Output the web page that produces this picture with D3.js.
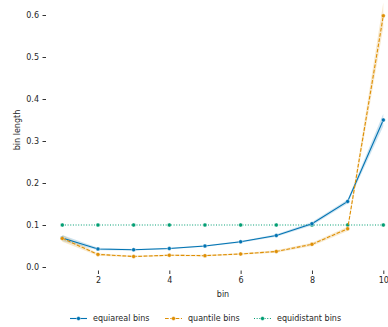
<!DOCTYPE html>
<html><head><meta charset="utf-8">
<script src="https://cdn.jsdelivr.net/npm/d3@7"></script>
<style>body{margin:0;background:#fff}svg{display:block}text{font-family:"DejaVu Sans",sans-serif}</style>
</head><body><svg id="c" width="388" height="327"></svg>
<script>
const bins = [1,2,3,4,5,6,7,8,9,10];
const equiareal = [0.069,0.043,0.041,0.044,0.050,0.060,0.075,0.103,0.156,0.350];
const equiarealLo = [0.062,0.040,0.039,0.042,0.048,0.058,0.072,0.099,0.151,0.335];
const equiarealHi = [0.076,0.046,0.043,0.046,0.052,0.062,0.078,0.107,0.161,0.365];
const quantile = [0.068,0.030,0.025,0.028,0.027,0.031,0.037,0.054,0.091,0.598];
const quantileLo = [0.060,0.027,0.023,0.026,0.025,0.029,0.034,0.050,0.086,0.570];
const quantileHi = [0.076,0.033,0.027,0.030,0.029,0.033,0.040,0.058,0.096,0.630];
const equidistant = [0.1,0.1,0.1,0.1,0.1,0.1,0.1,0.1,0.1,0.1];
const xTicks = [2,4,6,8,10];
const yTicks = [0.0,0.1,0.2,0.3,0.4,0.5,0.6];
const seriesNames = ["equiareal bins","quantile bins","equidistant bins"];

const svg = d3.select("#c");
const x = d3.scaleLinear().domain([1,10]).range([62.3,383.3]);
const y = d3.scaleLinear().domain([0,0.6]).range([267,15]);
const FS = "8px";

const series = [
  {name:seriesNames[0], v:equiareal, lo:equiarealLo, hi:equiarealHi, color:"#0173b2", dash:null},
  {name:seriesNames[1], v:quantile, lo:quantileLo, hi:quantileHi, color:"#de8f05", dash:"3.7,1.6"},
  {name:seriesNames[2], v:equidistant, lo:null, hi:null, color:"#029e73", dash:"1,1.65"}
];

// axes
const yAxis = d3.axisLeft(y).tickValues(yTicks).tickSize(3.5).tickPadding(3.5).tickFormat(d3.format(".1f"));
const gy = svg.append("g").attr("transform","translate(46,0)").call(yAxis);
gy.select(".domain").remove();
gy.selectAll("line").attr("stroke","#000").attr("stroke-width",0.8);
gy.selectAll("text").attr("font-size",FS).attr("fill","#262626");

const xAxis = d3.axisBottom(x).tickValues(xTicks).tickSize(3.5).tickPadding(3).tickFormat(d3.format("d"));
const gx = svg.append("g").attr("transform","translate(0,270.5)").call(xAxis);
gx.select(".domain").remove();
gx.selectAll("line").attr("stroke","#000").attr("stroke-width",0.8);
gx.selectAll("text").attr("font-size",FS).attr("fill","#262626");

svg.append("text").attr("x",223).attr("y",297).attr("text-anchor","middle").attr("font-size",FS).attr("fill","#262626").text("bin");
svg.append("text").attr("transform","translate(20,130) rotate(-90)").attr("text-anchor","middle").attr("font-size",FS).attr("fill","#262626").text("bin length");

// bands
series.forEach(s=>{
  if(!s.lo) return;
  const area = d3.area().x((d,i)=>x(bins[i])).y0((d,i)=>y(s.lo[i])).y1((d,i)=>y(s.hi[i]));
  svg.append("path").datum(s.v).attr("d",area).attr("fill",s.color).attr("fill-opacity",0.2);
});
// lines
const order = [2,0,1];
order.forEach(k=>{
  const s = series[k];
  const line = d3.line().x((d,i)=>x(bins[i])).y(d=>y(d));
  svg.append("path").datum(s.v).attr("d",line).attr("fill","none").attr("stroke",s.color)
    .attr("stroke-width",1.1).attr("stroke-dasharray",s.dash);
  svg.append("g").selectAll("circle").data(s.v).join("circle")
    .attr("cx",(d,i)=>x(bins[i])).attr("cy",d=>y(d)).attr("r",2)
    .attr("fill",s.color).attr("stroke","#fff").attr("stroke-width",0.4);
});

// legend
const legX = [70,165,254];
series.forEach((s,i)=>{
  const g = svg.append("g").attr("transform",`translate(${legX[i]},318.5)`);
  g.append("line").attr("x1",0).attr("x2",17).attr("y1",0).attr("y2",0).attr("stroke",s.color).attr("stroke-width",1.1).attr("stroke-dasharray",s.dash);
  g.append("circle").attr("cx",8.5).attr("cy",0).attr("r",2).attr("fill",s.color).attr("stroke","#fff").attr("stroke-width",0.4);
  g.append("text").attr("x",23).attr("y",2.8).attr("font-size",FS).attr("fill","#262626").text(s.name);
});
</script></body></html>
